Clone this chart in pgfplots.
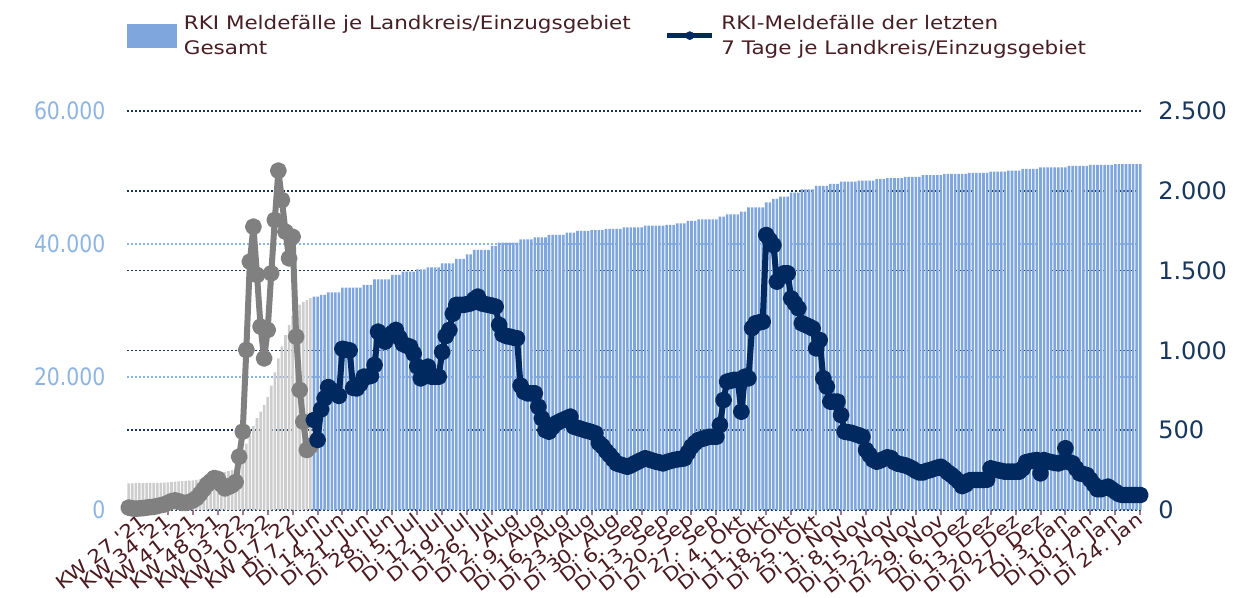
\documentclass[border=0pt]{standalone}
\usepackage{pgfplots}
\pgfplotsset{compat=1.18}
\usepackage{pgfplotstable}
\usepackage{fontspec}
\setmainfont{DejaVu Sans}
\newfontfamily\lblfont{DejaVu Sans}[FakeStretch=1.15]
\newfontfamily\numfont{DejaVu Sans}[FakeStretch=0.85]
\newfontfamily\numfontR{DejaVu Sans}
\definecolor{barblue}{RGB}{128,166,222}
\definecolor{bargrey}{RGB}{205,205,205}
\definecolor{linegrey}{RGB}{128,128,128}
\definecolor{navy}{RGB}{0,41,96}
\definecolor{leftlab}{RGB}{142,180,227}
\definecolor{rightlab}{RGB}{23,55,94}
\definecolor{xlab}{RGB}{75,26,31}
\definecolor{legtext}{RGB}{70,30,35}
\definecolor{tickmauve}{RGB}{156,123,147}
\definecolor{gridlight}{RGB}{142,180,227}
\definecolor{gridnavy}{RGB}{23,55,94}

\pgfplotstableread{
i bar line
0 4010 15
1 4020 10
2 4030 8
3 4040 10
4 4050 12
5 4060 15
6 4070 18
7 4080 20
8 4090 25
9 4100 30
10 4130 35
11 4160 45
12 4200 55
13 4250 60
14 4300 55
15 4340 45
16 4380 45
17 4420 50
18 4470 60
19 4530 75
20 4620 100
21 4740 130
22 4880 160
23 5040 180
24 5240 200
25 5420 195
26 5560 160
27 5700 135
28 5840 145
29 5990 155
30 6150 175
31 6600 334
32 8600 491
33 10000 1003
34 11300 1556
35 12600 1775
36 13800 1473
37 14800 1149
38 15800 950
39 17000 1128
40 18700 1483
41 20700 1817
42 22800 2126
43 24600 1942
44 26300 1744
45 27800 1577
46 29200 1712
47 30300 1086
48 30900 752
49 31300 553
50 31600 376
51 31850 400
}\greytab

\pgfplotstableread{
i bar line
52 32090 564
53 32090 439
54 32340 630
55 32340 700
56 32740 770
57 32740 750
58 32740 730
59 32740 715
60 33440 1010
61 33440 1005
62 33440 1000
63 33440 765
64 33440 762
65 33440 790
66 33840 835
67 33840 835
68 33840 840
69 34690 909
70 34690 1117
71 34690 1085
72 34690 1055
73 34690 1090
74 35340 1110
75 35340 1128
76 35340 1080
77 35840 1040
78 35840 1030
79 35840 1023
80 35840 980
81 36200 900
82 36200 825
83 36200 860
84 36500 898
85 36500 835
86 36500 835
87 36500 835
88 37100 990
89 37100 1090
90 37100 1128
91 37100 1230
92 37750 1285
93 37750 1285
94 37750 1285
95 38450 1290
96 38450 1295
97 39100 1320
98 39100 1337
99 39100 1295
100 39100 1290
101 39100 1285
102 39700 1280
103 39700 1274
104 40200 1160
105 40200 1100
106 40200 1090
107 40200 1086
108 40200 1080
109 40200 1076
110 40700 780
111 40700 740
112 40700 731
113 40700 731
114 41000 731
115 41000 647
116 41000 574
117 41000 500
118 41360 491
119 41360 520
120 41360 543
121 41360 555
122 41360 565
123 41700 575
124 41700 585
125 41700 522
126 41960 515
127 41960 508
128 41960 501
129 41960 495
130 42100 488
131 42100 480
132 42100 420
133 42100 400
134 42260 370
135 42260 345
136 42260 318
137 42260 292
138 42260 285
139 42500 278
140 42500 271
141 42500 280
142 42500 292
143 42500 303
144 42500 314
145 42760 324
146 42760 317
147 42760 310
148 42760 303
149 42760 298
150 42760 292
151 42860 300
152 42860 307
153 42860 313
154 43110 317
155 43110 320
156 43110 324
157 43470 360
158 43470 397
159 43470 420
160 43720 439
161 43720 445
162 43720 452
163 43720 459
164 43720 459
165 43720 459
166 44110 533
167 44110 689
168 44470 804
169 44470 810
170 44470 815
171 44470 815
172 44870 616
173 44870 835
174 45520 825
175 45520 1140
176 45520 1170
177 45520 1175
178 45520 1180
179 46270 1723
180 46270 1690
181 46770 1660
182 46770 1431
183 47120 1460
184 47120 1483
185 47120 1483
186 47720 1326
187 47720 1295
188 47720 1264
189 48230 1170
190 48230 1160
191 48230 1150
192 48230 1138
193 48730 1013
194 48730 1065
195 48730 825
196 48730 773
197 49030 679
198 49030 679
199 49030 679
200 49380 595
201 49380 491
202 49380 487
203 49380 483
204 49380 475
205 49530 468
206 49530 459
207 49530 376
208 49530 345
209 49530 315
210 49740 303
211 49740 310
212 49740 320
213 49890 330
214 49890 325
215 49890 300
216 49890 290
217 49890 285
218 50080 280
219 50080 271
220 50080 260
221 50080 245
222 50080 235
223 50340 235
224 50340 245
225 50340 250
226 50340 258
227 50340 265
228 50340 271
229 50530 255
230 50530 235
231 50530 219
232 50530 200
233 50530 180
234 50530 150
235 50530 160
236 50690 185
237 50690 188
238 50690 188
239 50690 188
240 50690 188
241 50690 190
242 50880 261
243 50880 255
244 50880 250
245 50880 245
246 50880 240
247 51040 240
248 51040 240
249 51040 240
250 51040 240
251 51290 260
252 51290 300
253 51290 305
254 51290 310
255 51290 313
256 51540 230
257 51540 313
258 51540 305
259 51540 300
260 51540 295
261 51540 292
262 51540 300
263 51540 387
264 51740 300
265 51740 292
266 51740 260
267 51740 230
268 51740 225
269 51740 219
270 51890 190
271 51890 160
272 51890 130
273 51890 130
274 51890 140
275 51890 146
276 51890 130
277 52000 115
278 52000 100
279 52000 94
280 52000 94
281 52000 94
282 52000 94
283 52000 94
284 52000 94
}\bluetab

\begin{document}
\begin{tikzpicture}
\begin{axis}[
  at={(0pt,0pt)}, anchor=south west,
  scale only axis, width=761.25pt, height=299.25pt,
  xmin=-0.5, xmax=284.5, ymin=0, ymax=60000,
  scaled y ticks=false,
  axis line style={draw=none},
  ybar, bar width=0.72,
  xtick={4,11,...,284},
  xticklabels={KW 27 '21,KW 34 '21,KW 41 '21,KW 48 '21,KW 03 '22,KW 10 '22,KW 17 '22,Di 7. Jun,Di 14. Jun,Di 21. Jun,Di 28. Jun,Di 5. Jul,Di 12. Jul,Di 19. Jul,Di 26. Jul,Di 2. Aug,Di 9. Aug,Di 16. Aug,Di 23. Aug,Di 30. Aug,Di 6. Sep,Di 13. Sep,Di 20. Sep,Di 27. Sep,Di 4. Okt,Di 11. Okt,Di 18. Okt,Di 25. Okt,Di 1. Nov,Di 8. Nov,Di 15. Nov,Di 22. Nov,Di 29. Nov,Di 6. Dez,Di 13. Dez,Di 20. Dez,Di 27. Dez,Di 3. Jan,Di 10. Jan,Di 17. Jan,Di 24. Jan},
  xtick pos=bottom, tick align=outside,
  major tick length=4pt,
  x tick style={draw=tickmauve, line width=1.5pt},
  xticklabel style={font=\lblfont\fontsize{14}{16}\selectfont, text=xlab, rotate=38, anchor=east, inner sep=0pt, yshift=-2pt, xshift=-1pt},
  ytick={0,20000,40000,60000},
  yticklabels={0,20.000,40.000,60.000},
  ytick pos=left,
  y tick style={draw=none},
  yticklabel style={font=\numfont\fontsize{18}{20}\selectfont, text=leftlab, anchor=east, inner sep=0pt, xshift=-12pt},
  ymajorgrids,
  major grid style={draw=gridlight, line width=1.2pt, dash pattern=on 1.2pt off 1.8pt},
  extra y ticks={0,12000,24000,36000,48000,60000},
  extra y tick labels={},
  extra y tick style={grid=major, major grid style={draw=gridnavy, line width=1.2pt, dash pattern=on 1.2pt off 1.8pt}, y tick style={draw=none}},
  legend columns=2,
  legend style={at={(-0.004,1.255)}, anchor=north west, draw=none, fill=none,
    font=\lblfont\fontsize{14}{19}\selectfont, text=legtext,
    cells={align=left, anchor=west},
    /tikz/every odd column/.append style={column sep=3pt},
    /tikz/every even column/.append style={column sep=23.5pt}},
]
\addplot[fill=bargrey, draw=none, bar shift=0pt, forget plot] table[x=i, y=bar]{\greytab};
\addplot[fill=barblue, draw=none, bar shift=0pt,
  legend image code/.code={\fill[barblue] (0pt,-9pt) rectangle (37.5pt,9pt);}] table[x=i, y=bar]{\bluetab};
\addlegendentry{RKI Meldefälle je Landkreis/Einzugsgebiet\\Gesamt}
\addlegendimage{legend image code/.code={\draw[navy, line width=3.5pt] (0pt,0pt) -- (34pt,0pt); \fill[navy] (17pt,0pt) circle (3pt);}}
\addlegendentry{RKI-Meldefälle der letzten\\7 Tage je Landkreis/Einzugsgebiet}
\end{axis}
\begin{axis}[
  at={(0pt,0pt)}, anchor=south west,
  scale only axis, width=761.25pt, height=299.25pt,
  xmin=-0.5, xmax=284.5, ymin=0, ymax=2500,
  scaled y ticks=false,
  axis line style={draw=none},
  xtick=\empty,
  ytick={0,500,1000,1500,2000,2500},
  yticklabels={0,500,1.000,1.500,2.000,2.500},
  ytick pos=right, yticklabel pos=right,
  y tick style={draw=none},
  yticklabel style={font=\numfontR\fontsize{18}{20}\selectfont, text=rightlab, anchor=west, inner sep=0pt, xshift=12pt},
]
\addplot[linegrey, line width=4.5pt, line join=round, mark=*, mark size=4.1pt, mark options={draw=none, fill=linegrey}] table[x=i, y=line]{\greytab};
\addplot[navy, line width=4.5pt, line join=round, mark=*, mark size=4.1pt, mark options={draw=none, fill=navy}] table[x=i, y=line]{\bluetab};
\end{axis}
\pgfresetboundingbox
\useasboundingbox (-95.25pt,-65.25pt) rectangle (836.25pt,382.5pt);
\end{tikzpicture}
\end{document}
